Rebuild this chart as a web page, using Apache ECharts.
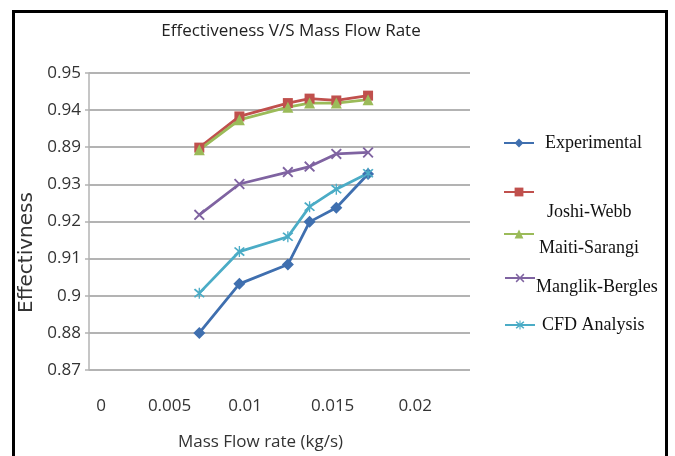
<!DOCTYPE html>
<html>
<head>
<meta charset="utf-8">
<script src="https://cdn.jsdelivr.net/npm/echarts@6/dist/echarts.min.js"></script>
<style>
html,body{margin:0;padding:0;background:#fff;}
#chart{width:675px;height:456px;}
</style>
</head>
<body>
<div id="chart"></div>
<script>
// Data
const massFlow = [0.0066, 0.0090, 0.0119, 0.0132, 0.0148, 0.0167];
const experimental = [0.8800, 0.8932, 0.8984, 0.9099, 0.9137, 0.9228];
const joshiWebb = [0.9299, 0.9383, 0.9419, 0.9431, 0.9426, 0.9439];
const maitiSarangi = [0.9293, 0.9374, 0.9408, 0.9419, 0.9419, 0.9428];
const manglikBergles = [0.9118, 0.9201, 0.9233, 0.9248, 0.9282, 0.9286];
const cfdAnalysis = [0.8907, 0.9019, 0.9059, 0.9140, 0.9187, 0.9230];
const seriesNames = ['Experimental', 'Joshi-Webb', 'Maiti-Sarangi', 'Manglik-Bergles', 'CFD Analysis'];
// tick labels exactly as printed in the reference (bottom to top)
const yTickLabels = ['0.87', '0.88', '0.9', '0.91', '0.92', '0.93', '0.89', '0.94', '0.95'];
const xTickLabels = ['0', '0.005', '0.01', '0.015', '0.02'];
const xTickValues = [0, 0.005, 0.01, 0.015, 0.02];

const pair = ys => massFlow.map((x, i) => [x, ys[i]]);
const xPath = 'path://M0,1.2L1.2,0L5,3.8L8.8,0L10,1.2L6.2,5L10,8.8L8.8,10L5,6.2L1.2,10L0,8.8L3.8,5Z';
const starPath = 'path://M0,1.2L1.2,0L5,3.8L8.8,0L10,1.2L6.2,5L10,8.8L8.8,10L5,6.2L1.2,10L0,8.8L3.8,5Z M4.4,-1L5.6,-1L5.6,11L4.4,11Z';

const colors = ['#3F6FAF', '#C0504D', '#9BBB59', '#7F63A1', '#4BACC6'];
const datasets = [experimental, joshiWebb, maitiSarangi, manglikBergles, cfdAnalysis];
const symbols = ['diamond', 'rect', 'triangle', xPath, starPath];
const symbolSizes = [12, 10, 11, 11, 11];

// small per-label nudges (styling only) so the x tick labels sit where the reference prints them
const xLabelFont = {fontFamily: 'Open Sans', fontSize: 17, color: '#333'};
const xRich = {
  l0: Object.assign({padding: [0, 0, 0, 24]}, xLabelFont),
  l1: Object.assign({padding: [0, 6, 0, 0]}, xLabelFont),
  l2: Object.assign({padding: [0, 22, 0, 0]}, xLabelFont),
  l3: Object.assign({padding: [0, 14, 0, 0]}, xLabelFont),
  l4: Object.assign({padding: [0, 16, 0, 0]}, xLabelFont)
};

const chart = echarts.init(document.getElementById('chart'));
const legendFont = {fontFamily: 'Liberation Serif', fontSize: 18, color: '#111'};
function lg(name, left, top, fmt, lh, pad) {
  return {
    data: [name], left: left, top: top, orient: 'vertical',
    itemWidth: 30, itemHeight: 11, padding: 0,
    selectedMode: false,
    formatter: fmt,
    textStyle: Object.assign({lineHeight: lh, padding: pad || 0}, legendFont)
  };
}
chart.setOption({
  backgroundColor: '#fff',
  animation: false,
  title: {
    text: 'Effectiveness V/S Mass Flow Rate',
    left: 286, top: 18, textAlign: 'center',
    textStyle: {fontFamily: 'Open Sans', fontSize: 17, fontWeight: 'normal', color: '#222'}
  },
  graphic: [{
    type: 'rect', shape: {x: 13.5, y: 11.5, width: 653, height: 470},
    style: {fill: 'none', stroke: '#000', lineWidth: 3}, silent: true, z: 100
  }],
  legend: [
    lg('Experimental', 503, 133, '{name}', 20, [0, 0, 0, 6]),
    lg('Joshi-Webb', 503, 162, '\n\n{name}', 20, [0, 0, 0, 8]),
    lg('Maiti-Sarangi', 503, 206, '\n{name}', 28),
    lg('Manglik-Bergles', 504, 260, '\n{name}', 18, [0, 0, 0, -4]),
    lg('CFD Analysis', 504, 315, '{name}', 20, [0, 0, 0, 2])
  ],
  grid: {left: 89, right: 205, top: 73, bottom: 86, containLabel: false},
  xAxis: {
    type: 'value', min: 0, max: 0.0228, interval: 0.005,
    name: 'Mass Flow rate (kg/s)', nameLocation: 'middle', nameGap: 64,
    nameTextStyle: {fontFamily: 'Open Sans', fontSize: 17, color: '#333', padding: [0, 38, 0, 0]},
    axisLine: {show: false}, axisTick: {show: false}, splitLine: {show: false},
    axisLabel: {
      margin: 28, fontFamily: 'Open Sans', fontSize: 17, color: '#333',
      rich: xRich,
      formatter: function (v) {
        const i = xTickValues.findIndex(t => Math.abs(t - v) < 1e-9);
        return i >= 0 ? '{l' + i + '|' + xTickLabels[i] + '}' : '';
      }
    }
  },
  yAxis: {
    type: 'value', min: 0.87, max: 0.95, interval: 0.01,
    name: 'Effectivness', nameLocation: 'middle', nameGap: 47, nameRotate: 90,
    nameTextStyle: {fontFamily: 'DejaVu Sans', fontSize: 20, color: '#333', padding: [0, 62, 0, 0]},
    axisLine: {show: true, lineStyle: {color: '#b3b3b3', width: 1.5}},
    axisTick: {show: true, length: 4, lineStyle: {color: '#b3b3b3', width: 1.5}},
    splitLine: {show: true, lineStyle: {color: '#b3b3b3', width: 1.8}},
    axisLabel: {
      margin: 8, fontFamily: 'Open Sans', fontSize: 17, color: '#333',
      formatter: function (v) {
        const i = Math.round((v - 0.87) / 0.01);
        return yTickLabels[i] !== undefined ? yTickLabels[i] : '';
      }
    }
  },
  series: seriesNames.map((n, k) => ({
    name: n, type: 'line', data: pair(datasets[k]),
    symbol: symbols[k], symbolSize: symbolSizes[k],
    lineStyle: {color: colors[k], width: 2.8},
    itemStyle: {color: colors[k]},
    emphasis: {disabled: true}
  }))
});
</script>
</body>
</html>
